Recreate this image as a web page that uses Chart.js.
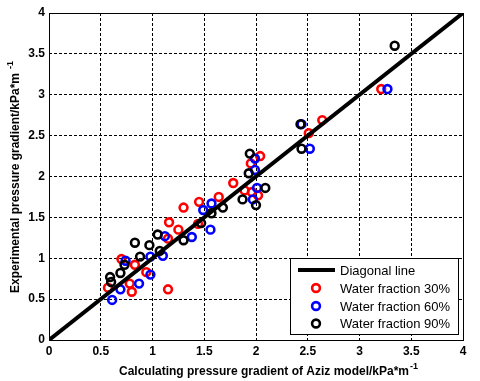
<!DOCTYPE html>
<html>
<head>
<meta charset="utf-8">
<script src="https://cdn.jsdelivr.net/npm/chart.js@4.4.0/dist/chart.umd.min.js"></script>
<style>
  html, body { margin: 0; padding: 0; background: #fff; }
  #wrap { width: 480px; height: 381px; }
</style>
</head>
<body>
<div id="wrap"><canvas id="chart" width="480" height="381"></canvas></div>
<script>
// ---- data ----
const diagX = [0, 4];
const diagY = [0, 4];

const red30X = [0.57, 0.70, 0.78, 0.80, 0.83, 0.94, 1.15, 1.15, 1.16, 1.25, 1.30, 1.44, 1.45, 1.64, 1.78, 1.89, 1.96, 2.02, 1.95, 2.04, 2.51, 2.64, 3.21];
const red30Y = [0.64, 0.99, 0.69, 0.59, 0.92, 0.83, 0.62, 1.24, 1.44, 1.35, 1.62, 1.42, 1.69, 1.75, 1.92, 1.83, 1.81, 1.77, 2.16, 2.25, 2.53, 2.69, 3.07];

const blue60X = [0.61, 0.69, 0.74, 0.87, 0.98, 0.98, 1.10, 1.12, 1.38, 1.49, 1.56, 1.57, 1.99, 1.99, 2.01, 1.97, 2.44, 2.52, 3.27];
const blue60Y = [0.49, 0.62, 0.97, 0.69, 0.80, 1.02, 1.03, 1.27, 1.26, 1.59, 1.35, 1.67, 2.22, 2.08, 1.86, 1.72, 2.64, 2.34, 3.07];

const black90X = [0.59, 0.60, 0.69, 0.73, 0.83, 0.88, 0.97, 1.05, 1.07, 1.30, 1.47, 1.57, 1.68, 1.87, 1.93, 1.94, 2.00, 2.09, 2.43, 2.44, 3.34];
const black90Y = [0.77, 0.71, 0.82, 0.92, 1.19, 1.02, 1.16, 1.29, 1.09, 1.22, 1.43, 1.55, 1.62, 1.72, 2.04, 2.28, 1.65, 1.86, 2.64, 2.34, 3.60];

const legendLabels = ['Diagonal line', 'Water fraction 30%', 'Water fraction 60%', 'Water fraction 90%'];
const xTitle = 'Calculating pressure gradient of Aziz model/kPa*m';
const yTitle = 'Experimental pressure gradient/kPa*m';
const unitSup = '-1';

const FONT = '"Liberation Sans", Arial, sans-serif';

function pts(xs, ys) {
    return xs.map((x, i) => ({ x: x, y: ys[i] }));
}

// frame, axis titles and the boxed legend
const decorations = {
    id: 'decorations',
    afterDraw(chart) {
        const ctx = chart.ctx;
        const a = chart.chartArea;
        ctx.save();

        // axes box
        ctx.strokeStyle = '#000';
        ctx.lineWidth = 1;
        ctx.setLineDash([]);
        ctx.strokeRect(Math.round(a.left) + 0.5, Math.round(a.top) + 0.5,
                       Math.round(a.right - a.left), Math.round(a.bottom - a.top));

        // x title
        ctx.fillStyle = '#000';
        ctx.font = 'bold 12px ' + FONT;
        ctx.textBaseline = 'alphabetic';
        let w = ctx.measureText(xTitle).width;
        ctx.font = 'bold 9px ' + FONT;
        let ws = ctx.measureText(unitSup).width;
        let x0 = 268 - (w + ws) / 2;
        ctx.font = 'bold 12px ' + FONT;
        ctx.textAlign = 'left';
        ctx.fillText(xTitle, x0, 375);
        ctx.font = 'bold 9px ' + FONT;
        ctx.fillText(unitSup, x0 + w + 1, 369);

        // y title
        ctx.save();
        ctx.translate(19, 177);
        ctx.rotate(-Math.PI / 2);
        ctx.font = 'bold 12px ' + FONT;
        w = ctx.measureText(yTitle).width;
        x0 = -(w + ws + 4) / 2;
        ctx.fillText(yTitle, x0, 0);
        ctx.font = 'bold 9px ' + FONT;
        ctx.fillText(unitSup, x0 + w + 4, -6);
        ctx.restore();

        // legend box
        const lx = 290, ly = 258, lw = 168, lh = 76;
        ctx.fillStyle = '#fff';
        ctx.fillRect(lx, ly, lw, lh);
        ctx.strokeStyle = '#000';
        ctx.lineWidth = 1;
        ctx.strokeRect(lx + 0.5, ly + 0.5, lw, lh);

        const rows = [270, 288, 306, 323.5];
        const colors = [null, '#ff0000', '#0000ff', '#000000'];
        ctx.font = '13px ' + FONT;
        ctx.textBaseline = 'middle';
        rows.forEach((ry, i) => {
            if (i === 0) {
                ctx.beginPath();
                ctx.strokeStyle = '#000';
                ctx.lineWidth = 4;
                ctx.moveTo(298, ry);
                ctx.lineTo(335, ry);
                ctx.stroke();
            } else {
                ctx.beginPath();
                ctx.strokeStyle = colors[i];
                ctx.lineWidth = 2.6;
                ctx.arc(316, ry, 3.9, 0, Math.PI * 2);
                ctx.stroke();
            }
            ctx.fillStyle = '#000';
            ctx.fillText(legendLabels[i], 340, ry + 1);
        });

        ctx.restore();
    }
};

const scatterStyle = (color) => ({
    showLine: false,
    pointStyle: 'circle',
    pointRadius: 3.9,
    pointHoverRadius: 3.9,
    pointBorderWidth: 2.6,
    pointBorderColor: color,
    pointBackgroundColor: 'rgba(0,0,0,0)',
    backgroundColor: 'rgba(0,0,0,0)',
    borderColor: color
});

const tickLabel = (value) => String(value);

new Chart(document.getElementById('chart'), {
    type: 'scatter',
    data: {
        datasets: [
            {
                label: legendLabels[0],
                data: pts(diagX, diagY),
                showLine: true,
                borderColor: '#000',
                borderWidth: 4,
                pointRadius: 0,
                order: 0
            },
            Object.assign({ label: legendLabels[1], data: pts(red30X, red30Y), order: 3 }, scatterStyle('#ff0000')),
            Object.assign({ label: legendLabels[2], data: pts(blue60X, blue60Y), order: 2 }, scatterStyle('#0000ff')),
            Object.assign({ label: legendLabels[3], data: pts(black90X, black90Y), order: 1 }, scatterStyle('#000000'))
        ]
    },
    options: {
        responsive: false,
        animation: false,
        layout: { padding: { top: 13, right: 17, left: 0, bottom: 0 } },
        scales: {
            x: {
                type: 'linear',
                min: 0,
                max: 4,
                afterFit: (s) => { s.height = 41; },
                ticks: {
                    stepSize: 0.5,
                    padding: 4,
                    color: '#000',
                    font: { family: FONT, size: 12, weight: 'bold' },
                    maxRotation: 0,
                    callback: tickLabel
                },
                grid: { color: '#000', lineWidth: 1, drawTicks: false },
                border: { display: false, dash: [3, 2] }
            },
            y: {
                type: 'linear',
                min: 0,
                max: 4,
                afterFit: (s) => { s.width = 49; },
                ticks: {
                    stepSize: 0.5,
                    padding: 4,
                    color: '#000',
                    font: { family: FONT, size: 12, weight: 'bold' },
                    callback: tickLabel
                },
                grid: { color: '#000', lineWidth: 1, drawTicks: false },
                border: { display: false, dash: [3, 2] }
            }
        },
        plugins: {
            legend: { display: false },
            tooltip: { enabled: false }
        }
    },
    plugins: [decorations]
});
</script>
</body>
</html>
